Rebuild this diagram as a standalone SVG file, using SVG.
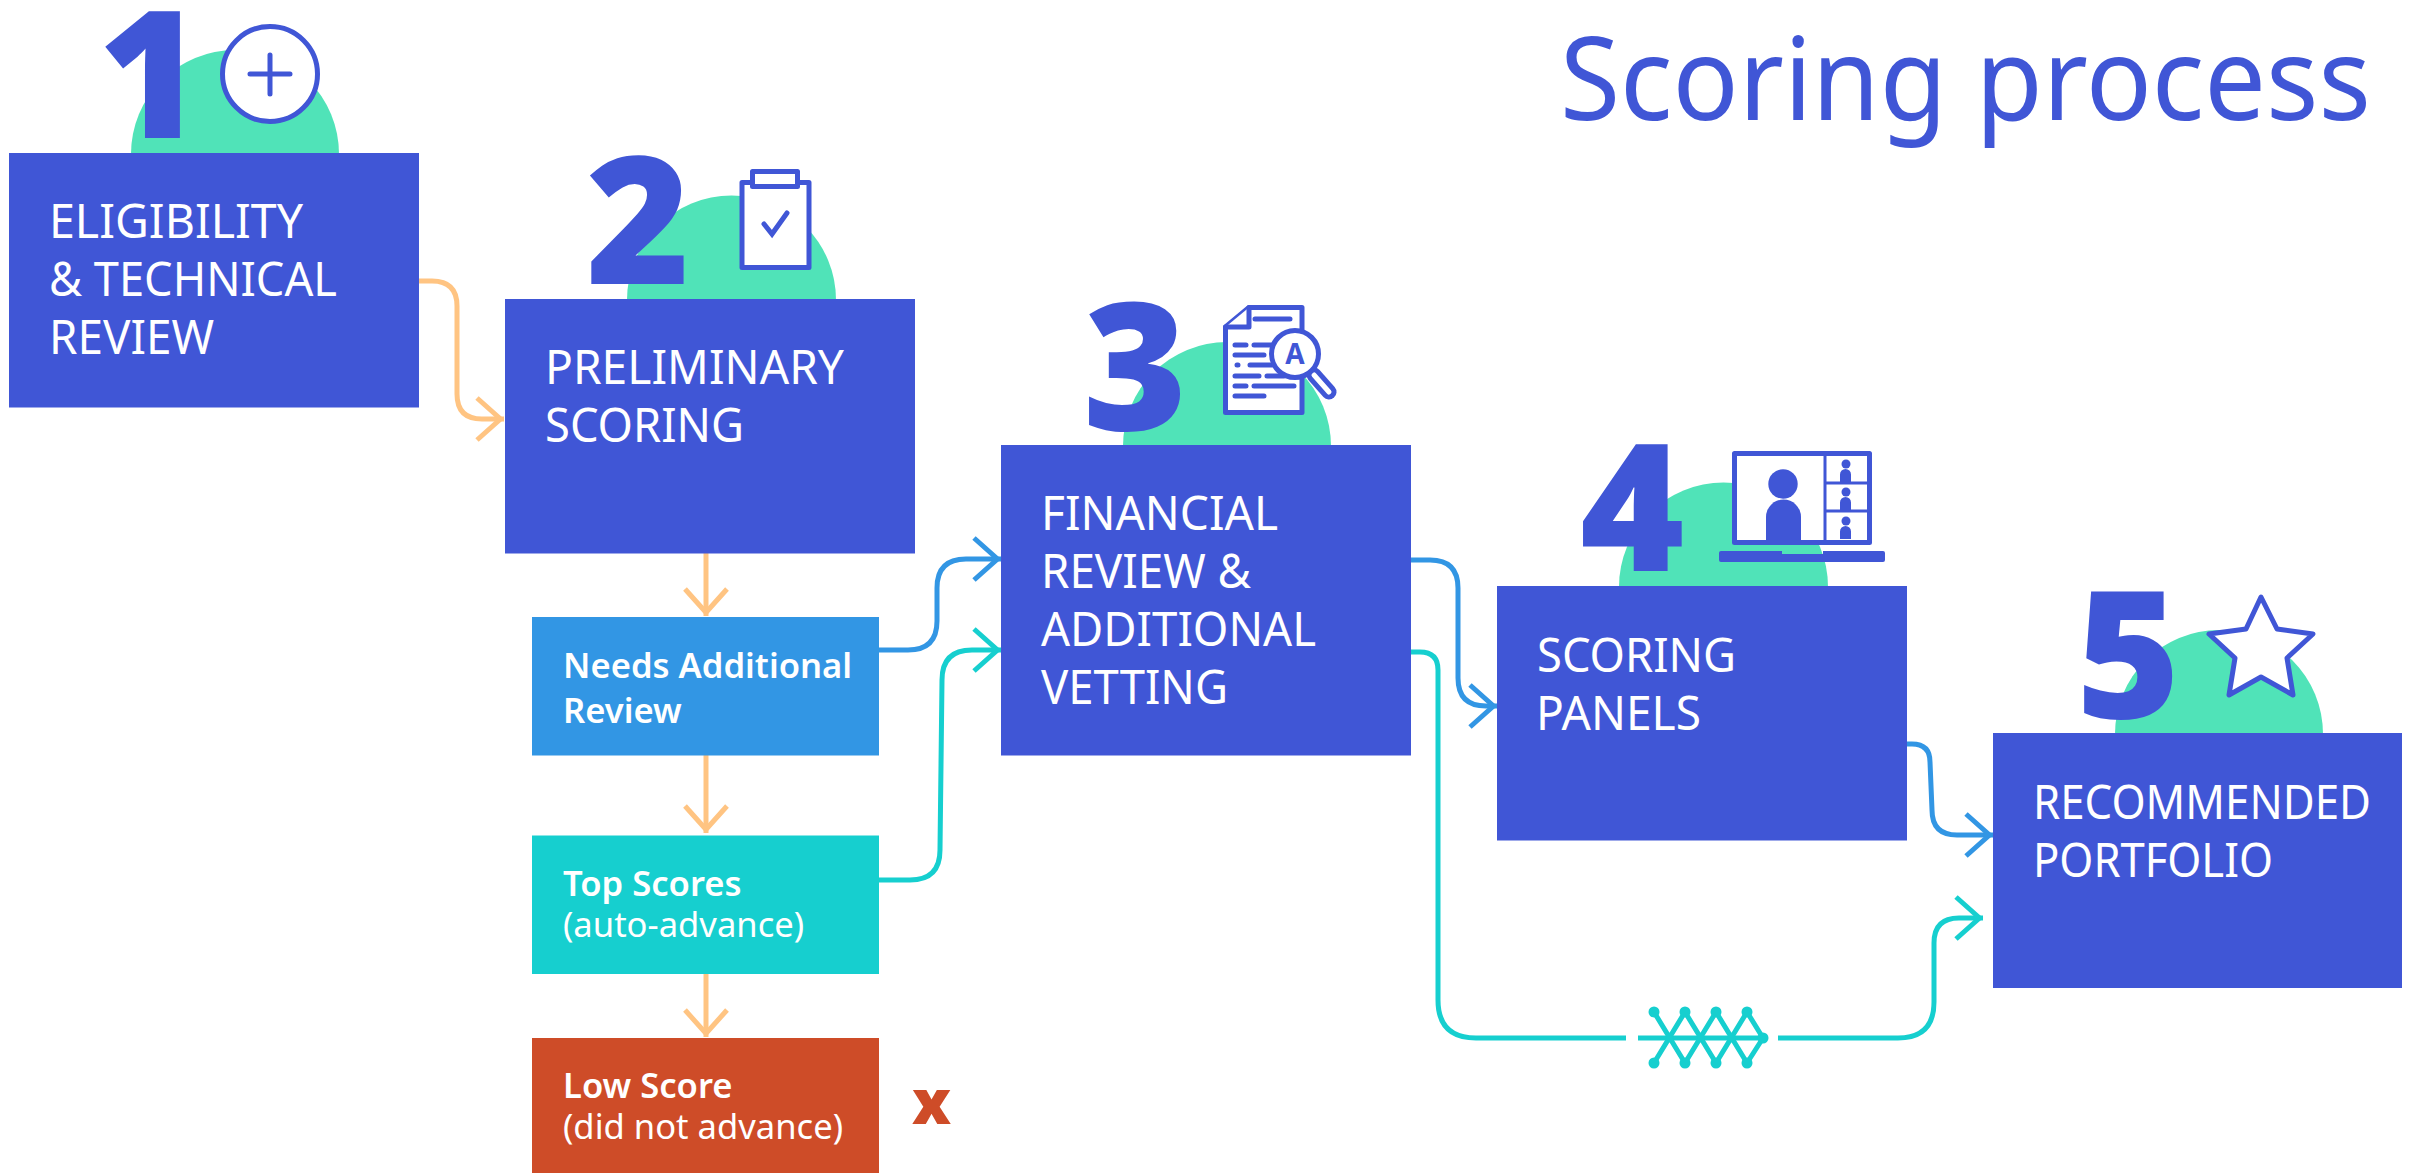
<svg xmlns="http://www.w3.org/2000/svg" width="2412" height="1173" viewBox="0 0 2412 1173">
<style>
text{font-family:"Noto Sans","Open Sans","Liberation Sans",sans-serif}
.box{fill:#4056D6}
.bump{fill:#50E3B8}
.t{fill:#fff;font-size:48px}
.s{fill:#fff;font-size:34.600px}
.b{font-weight:600}
.num{fill:#4056D6;font-size:178px;font-weight:900}
.ic{fill:#fff;stroke:#4056D6;stroke-width:5;stroke-linejoin:round;stroke-linecap:round}
.ln{fill:none;stroke:#4056D6;stroke-width:5;stroke-linecap:round}
.fb{fill:#4056D6}
.c{fill:none;stroke-width:5}
.pe{stroke:#FFC482}.bl{stroke:#3296E4}.te{stroke:#16CFCF}
</style>
<defs>
<marker id="mp" markerUnits="userSpaceOnUse" markerWidth="40" markerHeight="60" viewBox="-34 -30 40 60" refX="0" refY="0" orient="auto"><path d="M-27 -21L-3.500 0L-27 21" fill="none" stroke="#FFC482" stroke-width="5"/></marker>
<marker id="mb" markerUnits="userSpaceOnUse" markerWidth="40" markerHeight="60" viewBox="-34 -30 40 60" refX="0" refY="0" orient="auto"><path d="M-27 -21L-3.500 0L-27 21" fill="none" stroke="#3296E4" stroke-width="5"/></marker>
<marker id="mt" markerUnits="userSpaceOnUse" markerWidth="40" markerHeight="60" viewBox="-34 -30 40 60" refX="0" refY="0" orient="auto"><path d="M-27 -21L-3.500 0L-27 21" fill="none" stroke="#16CFCF" stroke-width="5"/></marker>
</defs>
<rect width="2412" height="1173" fill="#fff"/>
<text id="title" transform="translate(1560 120) scale(.943 1)" font-size="116" fill="#4056D6">Scoring process</text>
<g id="connectors">
<path class="c pe" d="M419 281H432Q457 281 457 306V394Q457 419 482 419H504" marker-end="url(#mp)"/>
<path class="c pe" d="M706 553V616" marker-end="url(#mp)"/>
<path class="c pe" d="M706 755V833" marker-end="url(#mp)"/>
<path class="c pe" d="M706 974V1037" marker-end="url(#mp)"/>
<path class="c bl" d="M879 650H908Q937 650 937 621V588Q937 559 966 559H1001" marker-end="url(#mb)"/>
<path class="c te" d="M879 880H910Q940 880 940 850L942 680Q942 650 972 650H1001" marker-end="url(#mt)"/>
<path class="c bl" d="M1411 560H1430Q1458 560 1458 588V678Q1458 706 1486 706H1497" marker-end="url(#mb)"/>
<path class="c te" d="M1411 652H1420Q1438 652 1438 670V1000Q1438 1038 1476 1038H1626"/>
<path class="c te" d="M1638 1038H1763"/>
<path class="c te" d="M1778 1038H1898Q1934 1038 1934 1002V943Q1934 918 1959 918H1983" marker-end="url(#mt)"/>
<path class="c te" d="M1654 1012L1685 1063L1716 1012L1747 1063L1763 1038L1747 1012L1716 1063L1685 1012L1654 1063" stroke-linejoin="round"/>
<g fill="#16CFCF"><circle cx="1654" cy="1012" r="5.500"/><circle cx="1685" cy="1012" r="5.500"/><circle cx="1716" cy="1012" r="5.500"/><circle cx="1747" cy="1012" r="5.500"/><circle cx="1654" cy="1063" r="5.500"/><circle cx="1685" cy="1063" r="5.500"/><circle cx="1716" cy="1063" r="5.500"/><circle cx="1747" cy="1063" r="5.500"/><circle cx="1763" cy="1038" r="5.500"/></g>
<path class="c bl" d="M1907 744H1912Q1930 744 1930 762L1932 810Q1932 835 1957 835H1993" marker-end="url(#mb)"/>
</g>
<g id="node1">
<path class="bump" d="M131 154A104 104 0 0 1 339 154Z"/>
<text class="num" x="98" y="138">1</text>
<circle class="ic" cx="270" cy="74" r="47.500"/>
<path class="ln" d="M250 74H290M270 55V94"/>
<rect class="box" x="9" y="153" width="410" height="254.500"/>
<text class="t" x="49" y="237.500" textLength="254" lengthAdjust="spacingAndGlyphs">ELIGIBILITY</text><text class="t" x="49" y="295.500" textLength="288" lengthAdjust="spacingAndGlyphs">&amp; TECHNICAL</text><text class="t" x="49" y="353.500" textLength="165" lengthAdjust="spacingAndGlyphs">REVIEW</text>
</g>
<g id="node2">
<path class="bump" d="M627 300A104.500 104.500 0 0 1 836 300Z"/>
<text class="num" x="586" y="284">2</text>
<rect class="ic" x="742" y="182.500" width="67" height="85"/>
<rect class="ic" x="752.500" y="171.500" width="45" height="15"/>
<path class="ln" d="M764 224L772 234L787 213"/>
<rect class="box" x="505" y="299" width="410" height="254.500"/>
<text class="t" x="545" y="383.500" textLength="299" lengthAdjust="spacingAndGlyphs">PRELIMINARY</text><text class="t" x="545" y="441.500" textLength="199" lengthAdjust="spacingAndGlyphs">SCORING</text>
</g>
<g id="node3">
<path class="bump" d="M1123 446A104 104 0 0 1 1331 446Z"/>
<text class="num" x="1083" y="430">3</text>
<path class="ic" d="M1225.500 327L1249 307.500H1302V412.500H1225.500Z"/>
<path class="ic" d="M1225.500 327H1249V307.500"/>
<path class="ln" d="M1255 319H1290M1235 345H1246M1254 345H1272M1235 355H1264M1237 365H1238M1250 365H1272M1235 376H1259M1267 376H1284M1235 386H1246M1254 386H1294M1235 396H1264"/>
<path d="M1314 375L1329 392" fill="none" stroke="#4056D6" stroke-width="15" stroke-linecap="round"/>
<path d="M1314 375L1329 392" fill="none" stroke="#fff" stroke-width="5" stroke-linecap="round"/>
<circle class="ic" cx="1295" cy="354" r="23.500"/>
<text x="1295" y="364" font-size="28" font-weight="700" fill="#4056D6" text-anchor="middle">A</text>
<rect class="box" x="1001" y="445" width="410" height="310.500"/>
<text class="t" x="1041" y="529.500" textLength="237" lengthAdjust="spacingAndGlyphs">FINANCIAL</text><text class="t" x="1041" y="587.500" textLength="210" lengthAdjust="spacingAndGlyphs">REVIEW &amp;</text><text class="t" x="1041" y="645.500" textLength="275" lengthAdjust="spacingAndGlyphs">ADDITIONAL</text><text class="t" x="1041" y="703.500" textLength="187" lengthAdjust="spacingAndGlyphs">VETTING</text>
</g>
<g id="node4">
<path class="bump" d="M1619 587A104.500 104.500 0 0 1 1828 587Z"/>
<text class="num" x="1580" y="571">4</text>
<rect class="ic" x="1734.500" y="453.500" width="135" height="89"/>
<path d="M1825 453V541M1825 483H1868M1825 511H1868" fill="none" stroke="#4056D6" stroke-width="3"/>
<g class="fb">
<circle cx="1783" cy="484" r="14.700"/><path d="M1766 540V517A17.500 17.500 0 0 1 1801 517V540Z"/>
<circle cx="1846" cy="464" r="4.500"/><path d="M1840 482V474.500A5.500 5.500 0 0 1 1851 474.500V482Z"/>
<circle cx="1846" cy="492" r="4.500"/><path d="M1840 510V502.500A5.500 5.500 0 0 1 1851 502.500V510Z"/>
<circle cx="1846" cy="521" r="4.500"/><path d="M1840 539V531.500A5.500 5.500 0 0 1 1851 531.500V539Z"/>
<path d="M1721 551H1782V554H1823V551H1883Q1885 551 1885 553V560Q1885 562 1883 562H1721Q1719 562 1719 560V553Q1719 551 1721 551Z"/>
</g>
<rect class="box" x="1497" y="586" width="410" height="254.500"/>
<text class="t" x="1537" y="671.500" textLength="199" lengthAdjust="spacingAndGlyphs">SCORING</text><text class="t" x="1536" y="729.500" textLength="165" lengthAdjust="spacingAndGlyphs">PANELS</text>
</g>
<g id="node5">
<path class="bump" d="M2115 734A104 104 0 0 1 2323 734Z"/>
<text class="num" x="2076" y="718">5</text>
<path class="ic" d="M2261 597L2277 629L2313 634L2287 658L2293 695L2261 677L2229 695L2235 658L2209 634L2246 629Z"/>
<rect class="box" x="1993" y="733" width="409" height="255"/>
<text class="t" x="2033" y="818.500" textLength="338" lengthAdjust="spacingAndGlyphs">RECOMMENDED</text><text class="t" x="2033" y="876.500" textLength="240" lengthAdjust="spacingAndGlyphs">PORTFOLIO</text>
</g>
<g id="needs"><rect x="532" y="617" width="347" height="138.500" fill="#3296E4"/><text class="s b" x="563" y="678">Needs Additional</text><text class="s b" x="563" y="723">Review</text></g>
<g id="top"><rect x="532" y="835.500" width="347" height="138.500" fill="#16CFCF"/><text class="s b" x="563" y="896">Top Scores</text><text class="s" x="563" y="937">(auto-advance)</text></g>
<g id="low"><rect x="532" y="1038" width="347" height="135" fill="#CE4C28"/><text class="s b" x="563" y="1098">Low Score</text><text class="s" x="563" y="1139">(did not advance)</text></g>
<text id="x" x="912" y="1124" font-size="62" font-weight="900" fill="#CE4C28">x</text>
</svg>
